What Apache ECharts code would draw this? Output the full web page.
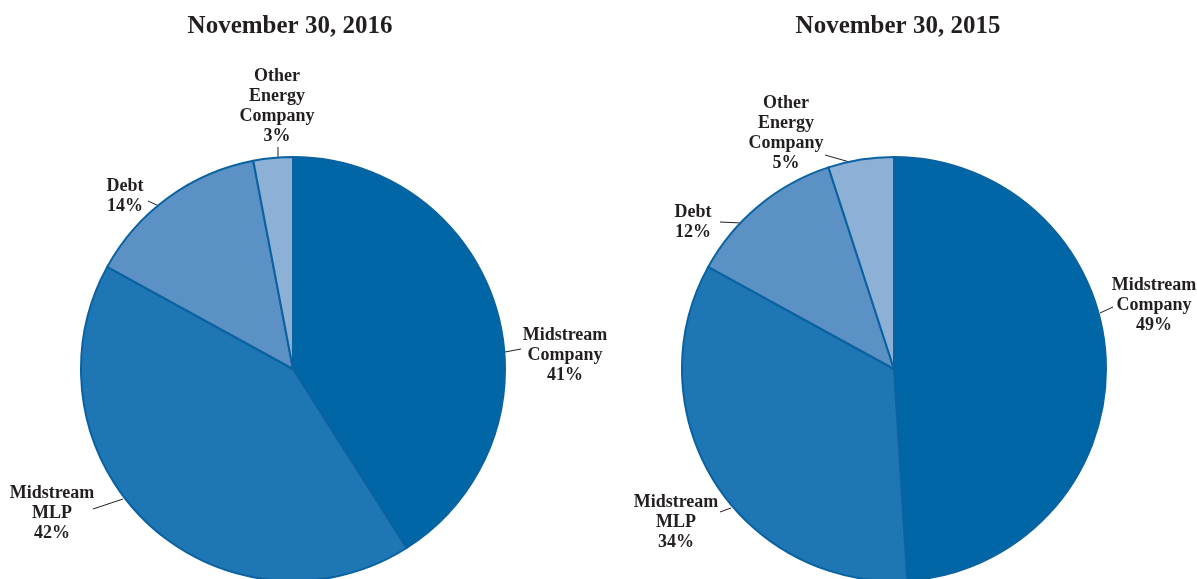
<!DOCTYPE html>
<html>
<head>
<meta charset="utf-8">
<script src="https://cdn.jsdelivr.net/npm/echarts@6/dist/echarts.min.js"></script>
<style>
  html, body { margin: 0; padding: 0; background: #ffffff; }
  #chart { width: 1197px; height: 579px; }
</style>
</head>
<body>
<div id="chart"></div>
<script>
// ---- Data ----
const titles = ['November 30, 2016', 'November 30, 2015'];
const categories = ['Midstream\nCompany', 'Midstream\nMLP', 'Debt', 'Other\nEnergy\nCompany'];
const values2016 = [41, 42, 14, 3];
const values2015 = [49, 34, 12, 5];

// ---- Styles / layout ----
const colors = ['#0066a6', '#1e77b4', '#5b91c4', '#8cb0d6'];
const pieCenters = [[293, 369], [894, 369]];
const pieRadius = 212;
const fontFamily = '"Liberation Serif", "Times New Roman", serif';

// label block centre and guide-line points per series / item
const labelLayouts = [
  [
    { x: 565, y: 355, line: [[505, 352], [521, 349]] },
    { x: 52, y: 513, line: [[123, 499], [93, 509]] },
    { x: 125, y: 196, line: [[159, 206], [148, 201]] },
    { x: 277, y: 106, line: [[278, 159], [278, 147]] }
  ],
  [
    { x: 1154, y: 305, line: [[1100, 313], [1113, 307]] },
    { x: 676, y: 522, line: [[731, 508], [720, 512]] },
    { x: 693, y: 222, line: [[742, 223], [720, 222]] },
    { x: 786, y: 133, line: [[853, 163], [825, 155]] }
  ]
];

function buildData(vals) {
  return vals.map((v, i) => ({ name: categories[i], value: v, itemStyle: { color: colors[i] } }));
}

function pieSeries(idx, vals) {
  return {
    type: 'pie',
    center: pieCenters[idx],
    radius: pieRadius,
    startAngle: 90,
    clockwise: true,
    avoidLabelOverlap: false,
    animation: false,
    silent: true,
    itemStyle: { borderColor: '#0a62a0', borderWidth: 2 },
    label: {
      show: true,
      position: 'outside',
      formatter: '{b}\n{c}%',
      fontFamily: fontFamily,
      fontWeight: 'bold',
      fontSize: 18,
      lineHeight: 20,
      color: '#231f20',
      align: 'center'
    },
    labelLine: { show: true, lineStyle: { color: '#231f20', width: 1 } },
    labelLayout: function (params) {
      const l = labelLayouts[idx][params.dataIndex];
      return {
        x: l.x,
        y: l.y,
        align: 'center',
        verticalAlign: 'middle',
        labelLinePoints: l.line
      };
    },
    data: buildData(vals)
  };
}

const chart = echarts.init(document.getElementById('chart'), null, { renderer: 'canvas' });
chart.setOption({
  backgroundColor: '#ffffff',
  animation: false,
  title: [
    { text: titles[0], left: 285, top: 9, textAlign: 'center',
      textStyle: { fontFamily: fontFamily, fontWeight: 'bold', fontSize: 25, color: '#231f20' } },
    { text: titles[1], left: 893, top: 9, textAlign: 'center',
      textStyle: { fontFamily: fontFamily, fontWeight: 'bold', fontSize: 25, color: '#231f20' } }
  ],
  series: [pieSeries(0, values2016), pieSeries(1, values2015)]
});
</script>
</body>
</html>
